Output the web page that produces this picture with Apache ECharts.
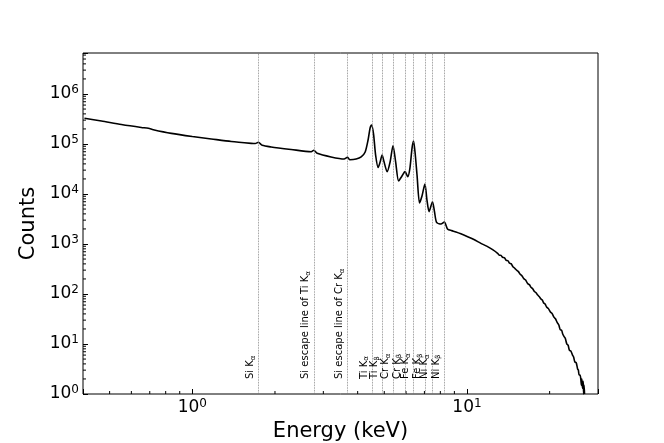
<!DOCTYPE html>
<html style="height: 100%">
<head>
  <meta charset="utf-8">
</head>
<body style="height: 100%; margin: 0">
  <div id="container" style="width: 664px; height: 443px"></div>
  <script src="https://cdn.jsdelivr.net/npm/echarts@6/dist/echarts.min.js"></script>
  <script>
    // spectrum (keV, counts)
    var energy = [
      0.405, 0.467, 0.552, 0.652, 0.692, 0.721, 0.839, 1.0, 1.172, 1.386,
      1.639, 1.695, 1.74, 1.797, 1.937, 2.29, 2.71, 2.77, 2.85, 3.20,
      3.57, 3.67, 3.75, 3.95, 4.12, 4.26, 4.365, 4.44, 4.495, 4.57,
      4.65, 4.75, 4.83, 4.91, 4.99, 5.12, 5.25, 5.38, 5.50, 5.64,
      5.80, 5.95, 6.09, 6.20, 6.31, 6.39, 6.47, 6.58, 6.72, 6.86,
      7.03, 7.15, 7.28, 7.49, 7.62, 7.75, 8.04, 8.27, 8.51, 8.8,
      9.12, 9.5, 10.06, 10.6, 11.24, 11.8, 12.4, 12.93, 13.1, 13.3,
      13.5, 13.7, 13.9, 14.1, 14.3, 14.5, 14.7, 14.86, 15.0, 15.2,
      15.4, 15.6, 15.85, 16.1, 16.35, 16.63, 16.9, 17.1, 17.35, 17.6,
      17.85, 18.1, 18.35, 18.58, 18.8, 19.0, 19.25, 19.5, 19.8, 20.1,
      20.4, 20.77, 21.0, 21.3, 21.6, 21.9, 22.1, 22.3, 22.58, 22.8,
      23.1, 23.35, 23.6, 23.9, 24.23, 24.45, 24.7, 25.0, 25.27, 25.45,
      25.6, 25.8, 25.97, 26.1, 26.2, 26.35, 26.5, 26.6, 26.7, 26.8
    ];
    var counts = [
      3.27e5, 2.88e5, 2.45e5, 2.14e5, 2.06e5, 1.93e5, 1.63e5, 1.41e5, 1.26e5, 1.12e5,
      1.03e5, 1.02e5, 1.08e5, 9.4e4, 8.7e4, 7.76e4, 7.0e4, 7.5e4, 6.5e4, 5.5e4,
      5.0e4, 5.42e4, 4.85e4, 5.0e4, 5.5e4, 6.9e4, 1.2e5, 2.09e5, 2.4e5, 1.58e5,
      6.0e4, 3.39e4, 4.37e4, 6.0e4, 4.4e4, 2.79e4, 4.37e4, 9.25e4, 4.4e4, 1.82e4,
      2.29e4, 2.8e4, 2.22e4, 3.3e4, 8.3e4, 1.15e5, 6.9e4, 2.4e4, 6.6e3, 9.1e3,
      1.58e4, 7.6e3, 4.43e3, 7.0e3, 4.37e3, 2.72e3, 2.51e3, 2.75e3, 1970, 1850,
      1740, 1600, 1400, 1230, 1030, 905, 770, 652, 600, 590,
      540, 530, 470, 462, 412, 400, 350, 335, 318, 296,
      280, 250, 232, 203, 190, 162, 152, 136, 128, 112,
      106, 95, 88, 80, 76, 67, 63, 55, 51, 44,
      41, 34, 32, 27, 24, 19, 19, 16, 14, 13,
      10, 9.5, 7.5, 7.2, 6, 5.5, 4.4, 4.2, 3.2, 3.0,
      2.4, 2.4, 2.0, 1.5, 2.0, 1.3, 1.8, 1.0, 1.5, 1.0
    ];

    // emission lines marked on the plot
    var lineEnergies = [1.74, 2.77, 3.67, 4.51, 4.93, 5.41, 5.95, 6.40, 7.06, 7.48, 8.26];
    var lineNames = ['Si K', 'Si escape line of Ti K', 'Si escape line of Cr K', 'Ti K', 'Ti K',
                     'Cr K', 'Cr K', 'Fe K', 'Fe K', 'Ni K', 'Ni K'];
    var lineSubs = ['α', 'α', 'α', 'α', 'β', 'α', 'β', 'α', 'β', 'α', 'β'];

    var xRange = [0.4, 30];
    var yRange = [1, 6.6e6];
    var xMinorTicks = [0.5, 0.6, 0.7, 0.8, 0.9, 2, 3, 4, 5, 6, 7, 8, 9, 20];
    var yDecades = [1, 10, 100, 1e3, 1e4, 1e5, 1e6];
    var yMultipliers = [2, 3, 4, 5, 6, 7, 8, 9];

    var FONT = 'DejaVu Sans';

    var spectrum = energy.map(function (e, i) { return [e, counts[i]]; });

    var minorTicks = xMinorTicks.map(function (v) { return [v, yRange[0], 0]; });
    yDecades.forEach(function (d) {
      yMultipliers.forEach(function (m) {
        if (d * m < yRange[1]) minorTicks.push([xRange[0], d * m, 1]);
      });
    });

    var markData = lineEnergies.map(function (e, i) {
      return {
        xAxis: e,
        label: { formatter: '{t|' + lineNames[i] + '}{s|' + lineSubs[i] + '}' }
      };
    });

    function powLabel(v) {
      var p = Math.log10(v);
      if (Math.abs(p - Math.round(p)) > 1e-6) return '';
      return '{b|10}{s|' + Math.round(p) + '}';
    }
    var powRich = {
      b: { fontFamily: FONT, fontSize: 17, color: '#000', lineHeight: 20 },
      s: { fontFamily: FONT, fontSize: 12, color: '#000', lineHeight: 12, verticalAlign: 'top' }
    };

    var chart = echarts.init(document.getElementById('container'), null, { renderer: 'canvas' });

    var option = {
      animation: false,
      grid: {
        left: 83, right: 66, top: 53, bottom: 49,
        show: true, borderColor: '#000', borderWidth: 1,
        outerBoundsMode: 'none'
      },
      xAxis: {
        type: 'log',
        min: xRange[0],
        max: xRange[1],
        name: 'Energy (keV)',
        nameLocation: 'middle',
        nameGap: 23,
        nameTextStyle: { fontFamily: FONT, fontSize: 21, color: '#000' },
        axisLine: { show: false },
        axisTick: { show: true, inside: true, length: 5, lineStyle: { color: '#000' } },
        axisLabel: { margin: 4, formatter: powLabel, rich: powRich },
        splitLine: { show: false }
      },
      yAxis: {
        type: 'log',
        min: yRange[0],
        max: yRange[1],
        splitNumber: 7,
        name: 'Counts',
        nameLocation: 'middle',
        nameGap: 42,
        nameTextStyle: { fontFamily: FONT, fontSize: 21, color: '#000' },
        axisLine: { show: false },
        axisTick: { show: true, inside: true, length: 5, lineStyle: { color: '#000' } },
        axisLabel: { margin: 4, formatter: powLabel, rich: powRich },
        splitLine: { show: false }
      },
      series: [
        {
          type: 'line',
          data: spectrum,
          showSymbol: false,
          smooth: 0.25,
          lineStyle: { color: '#000', width: 1.6 },
          z: 3,
          markLine: {
            silent: true,
            symbol: ['none', 'none'],
            animation: false,
            lineStyle: { color: '#777', type: 'dotted', width: 0.8 },
            label: {
              show: true,
              position: 'insideStartTop',
              distance: [15, 2],
              color: '#000',
              rich: {
                t: { fontFamily: FONT, fontSize: 10, color: '#000', lineHeight: 12 },
                s: { fontFamily: FONT, fontSize: 7, color: '#000', lineHeight: 8, verticalAlign: 'bottom' }
              }
            },
            data: markData
          }
        },
        {
          type: 'custom',
          silent: true,
          z: 4,
          data: minorTicks,
          renderItem: function (params, api) {
            var p = api.coord([api.value(0), api.value(1)]);
            var horizontal = api.value(2) === 1;
            return {
              type: 'line',
              shape: horizontal
                ? { x1: p[0], y1: p[1], x2: p[0] + 3, y2: p[1] }
                : { x1: p[0], y1: p[1], x2: p[0], y2: p[1] - 3 },
              style: { stroke: '#000', lineWidth: 1 }
            };
          }
        }
      ]
    };

    chart.setOption(option);
  </script>
</body>
</html>
